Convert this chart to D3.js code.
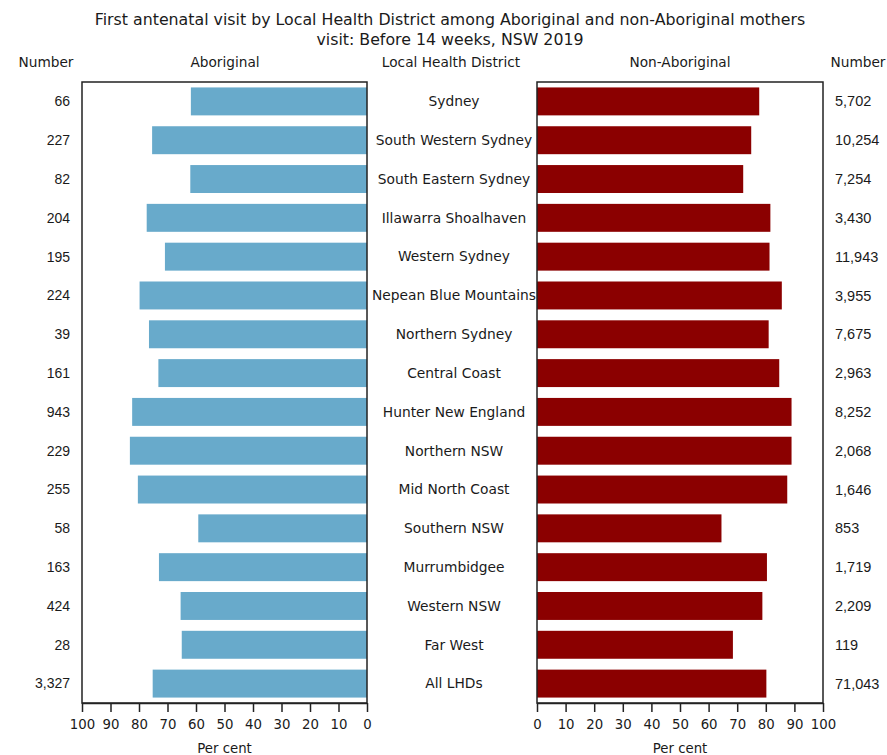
<!DOCTYPE html>
<html>
<head>
<meta charset="utf-8">
<script src="https://cdn.jsdelivr.net/npm/d3@7"></script>
<style>
  html, body { margin: 0; padding: 0; background: #fff; }
  svg { display: block; }
  .lbl { font-family: "DejaVu Sans", Verdana, sans-serif; fill: #1a1a1a; }
  .num { font-family: "Liberation Sans", Arial, sans-serif; fill: #1a1a1a; }
</style>
</head>
<body>
<svg id="chart" width="887" height="755"></svg>
<script>
// Local Health Districts, top to bottom
const districts = [
  "Sydney", "South Western Sydney", "South Eastern Sydney", "Illawarra Shoalhaven",
  "Western Sydney", "Nepean Blue Mountains", "Northern Sydney", "Central Coast",
  "Hunter New England", "Northern NSW", "Mid North Coast", "Southern NSW",
  "Murrumbidgee", "Western NSW", "Far West", "All LHDs"
];

// Per cent with first visit before 14 weeks
const aboriginalPct = [61.8, 75.4, 62.0, 77.3, 70.9, 79.8, 76.5, 73.2,
                       82.4, 83.2, 80.4, 59.2, 73.0, 65.4, 65.0, 75.2];
const nonAboriginalPct = [77.7, 74.9, 72.1, 81.6, 81.3, 85.6, 81.0, 84.7,
                          89.0, 89.0, 87.5, 64.5, 80.4, 78.8, 68.5, 80.2];

// Number of mothers
const aboriginalNumber = ["66", "227", "82", "204", "195", "224", "39", "161",
                          "943", "229", "255", "58", "163", "424", "28", "3,327"];
const nonAboriginalNumber = ["5,702", "10,254", "7,254", "3,430", "11,943", "3,955", "7,675", "2,963",
                             "8,252", "2,068", "1,646", "853", "1,719", "2,209", "119", "71,043"];

const tickValues = [0, 10, 20, 30, 40, 50, 60, 70, 80, 90, 100];

const svg = d3.select("#chart");

const plotTop = 82, plotBottom = 703;
const leftPanel = { x0: 82, x1: 367 };
const rightPanel = { x0: 537, x1: 823 };

const y = d3.scaleBand().domain(districts).range([plotTop, plotBottom]).paddingInner(0.28).paddingOuter(0.14);
const xL = d3.scaleLinear().domain([100, 0]).range([leftPanel.x0, leftPanel.x1]);
const xR = d3.scaleLinear().domain([0, 100]).range([rightPanel.x0, rightPanel.x1]);

// Title
svg.append("text").attr("class", "lbl").attr("x", 450).attr("y", 25)
  .attr("text-anchor", "middle").style("font-size", "15.8px")
  .text("First antenatal visit by Local Health District among Aboriginal and non-Aboriginal mothers");
svg.append("text").attr("class", "lbl").attr("x", 450).attr("y", 45)
  .attr("text-anchor", "middle").style("font-size", "15.8px")
  .text("visit: Before 14 weeks, NSW 2019");

// Column headers
const headers = [
  { t: "Number", x: 46 },
  { t: "Aboriginal", x: 225 },
  { t: "Local Health District", x: 451 },
  { t: "Non-Aboriginal", x: 680 },
  { t: "Number", x: 858 }
];
svg.selectAll(".hdr").data(headers).join("text")
  .attr("class", "lbl hdr").attr("x", d => d.x).attr("y", 67)
  .attr("text-anchor", "middle").style("font-size", "13.7px").text(d => d.t);

// Bars
svg.append("g").selectAll("rect").data(districts).join("rect")
  .attr("x", (d, i) => xL(aboriginalPct[i]))
  .attr("y", d => y(d))
  .attr("width", (d, i) => xL(0) - xL(aboriginalPct[i]))
  .attr("height", y.bandwidth())
  .attr("fill", "#68aacb");

svg.append("g").selectAll("rect").data(districts).join("rect")
  .attr("x", xR(0))
  .attr("y", d => y(d))
  .attr("width", (d, i) => xR(nonAboriginalPct[i]) - xR(0))
  .attr("height", y.bandwidth())
  .attr("fill", "#8b0000");

// Panel frames
[leftPanel, rightPanel].forEach(p => {
  svg.append("rect").attr("x", p.x0).attr("y", plotTop)
    .attr("width", p.x1 - p.x0).attr("height", plotBottom - plotTop)
    .attr("fill", "none").attr("stroke", "#222").attr("stroke-width", 1.5);
});

// Bottom axes
function styleAxis(g) {
  g.select(".domain").attr("stroke", "#222").attr("stroke-width", 1.5);
  g.selectAll(".tick line").attr("stroke", "#222").attr("stroke-width", 1.5);
  g.selectAll(".tick text").attr("class", "lbl").style("font-size", "13.3px").attr("dy", "0.9em");
}
svg.append("g").attr("transform", `translate(0,${plotBottom})`)
  .call(d3.axisBottom(xL).tickValues(tickValues).tickSize(9).tickSizeOuter(0).tickPadding(5))
  .call(styleAxis);
svg.append("g").attr("transform", `translate(0,${plotBottom})`)
  .call(d3.axisBottom(xR).tickValues(tickValues).tickSize(9).tickSizeOuter(0).tickPadding(5))
  .call(styleAxis);

svg.append("text").attr("class", "lbl").attr("x", (leftPanel.x0 + leftPanel.x1) / 2).attr("y", 753)
  .attr("text-anchor", "middle").style("font-size", "13.3px").text("Per cent");
svg.append("text").attr("class", "lbl").attr("x", (rightPanel.x0 + rightPanel.x1) / 2).attr("y", 753)
  .attr("text-anchor", "middle").style("font-size", "13.3px").text("Per cent");

// District names
svg.append("g").selectAll("text").data(districts).join("text")
  .attr("class", "lbl").attr("x", 454).attr("y", d => y(d) + y.bandwidth() / 2)
  .attr("dy", "0.35em").attr("text-anchor", "middle").style("font-size", "13.8px")
  .text(d => d);

// Numbers
svg.append("g").selectAll("text").data(districts).join("text")
  .attr("class", "num").attr("x", 70).attr("y", d => y(d) + y.bandwidth() / 2)
  .attr("dy", "0.35em").attr("text-anchor", "end").style("font-size", "14px")
  .text((d, i) => aboriginalNumber[i]);
svg.append("g").selectAll("text").data(districts).join("text")
  .attr("class", "num").attr("x", 835).attr("y", d => y(d) + y.bandwidth() / 2)
  .attr("dy", "0.35em").attr("text-anchor", "start").style("font-size", "14.5px")
  .text((d, i) => nonAboriginalNumber[i]);
</script>
</body>
</html>
